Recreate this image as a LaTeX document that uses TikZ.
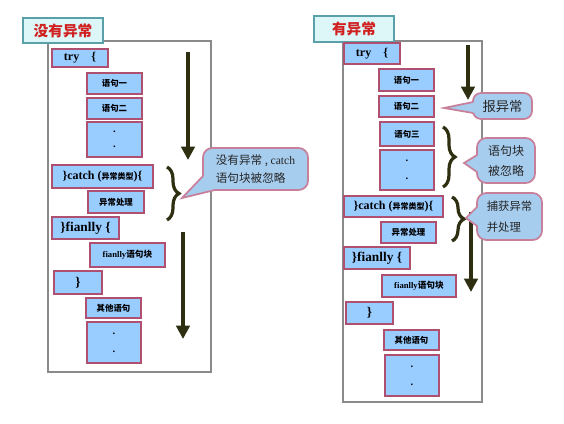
\documentclass[tikz,border=0pt]{standalone}
\usepackage{fontspec}
\setmainfont{Liberation Serif}
\newfontfamily\cjk{Noto Sans CJK SC}
\usetikzlibrary{arrows.meta,decorations.pathreplacing}
\definecolor{boxfill}{HTML}{99CCFF}
\definecolor{boxline}{HTML}{B05070}
\definecolor{framec}{HTML}{8A8A8A}
\definecolor{titlefill}{HTML}{DDF6F8}
\definecolor{titleline}{HTML}{5AA0A8}
\definecolor{titletext}{HTML}{D02020}
\definecolor{olive}{HTML}{2E2E10}
\definecolor{callfill}{HTML}{A6CCEE}
\definecolor{callline}{HTML}{C8809A}
\newcommand\fs[1]{\fontsize{#1}{#1}\selectfont}
\newcommand\bx[7]{\node[#1,minimum width={(#5-#3)*0.75pt},minimum height={(#6-#4)*0.75pt}] (#2) at ({(#3+#5)/2},{(#4+#6)/2}) {#7};}
\begin{document}
\begin{tikzpicture}[x=0.75pt,y=-0.75pt,
  blk/.style={draw=boxline,fill=boxfill,line width=1pt,inner sep=0pt,font=\bfseries},
  panel/.style={draw=framec,line width=1pt,inner sep=0pt},
  title/.style={draw=titleline,fill=titlefill,line width=0.9pt,inner sep=0pt,text=titletext,font=\cjk\bfseries\fs{11}},
  call/.style={draw=callline,fill=callfill,line width=1.3pt,rounded corners=7pt,inner sep=0pt,align=left,text=black!85},
  cline/.style={draw=callline,line width=1.3pt,line join=miter},
  flow/.style={draw=olive,line width=3pt,-{Triangle[width=10pt,length=10pt]}},
  brc/.style={draw=olive,line width=2.4pt,decorate,decoration={brace,amplitude=9pt}},
  dots/.style={align=center,font=\bfseries\fs{8}}]
\useasboundingbox (0,0) rectangle (564,424);
% ---------------- left panel ----------------
\bx{panel}{lframe}{48}{41}{211}{372}{}
\bx{title}{ltitle}{23}{18}{103}{43}{没有异常}
\bx{blk}{ltry}{52}{49}{108}{67}{\fs{9}try\hspace{1em}\{}
\bx{blk}{ls1}{87}{73}{142}{94}{\cjk\fs{6.3}语句一}
\bx{blk}{ls2}{87}{98}{142}{119}{\cjk\fs{6.3}语句二}
\bx{blk,dots}{ld1}{87}{122}{142}{157}{\raisebox{-7pt}{\shortstack{.\\[7pt].}}}
\bx{blk}{lcatch}{52}{165}{153}{188}{\fs{9}\}catch ({\cjk\fs{6}异常类型})\{}
\bx{blk}{lh}{88}{191}{144}{213}{\cjk\fs{6.3}异常处理}
\bx{blk}{lfin}{52}{217}{119}{239}{\fs{10}\}fianlly \{}
\bx{blk}{lfinb}{90}{243}{165}{267}{\fs{6.5}fianlly{\cjk 语句块}}
\bx{blk}{lend}{54}{271}{102}{294}{\fs{10}\}}
\bx{blk}{lo}{86}{298}{141}{318}{\cjk\fs{6.3}其他语句}
\bx{blk,dots}{ld2}{87}{322}{141}{363}{\raisebox{-8pt}{\shortstack{.\\[9pt].}}}
\coordinate (la1s) at (188,52);
\coordinate (la1e) at (188,160);
\draw[flow] (la1s) -- (la1e);
\coordinate (la2s) at (183,232);
\coordinate (la2e) at (183,339);
\draw[flow] (la2s) -- (la2e);
\coordinate (lb1) at (167,167);
\coordinate (lb2) at (167,220);
\draw[brc] (lb1) -- (lb2);
\bx{call}{lcall}{203}{148}{308}{190}{\cjk\fs{8.7}没有异常 , {\rmfamily catch}\\[2pt]\cjk\fs{8.7}语句块被忽略}
\coordinate (lct) at (182,198);
\coordinate (lca) at (203,176);
\coordinate (lcb) at (215,190);
\coordinate (lcc) at (214,180);
\fill[callfill] (lct) -- (lca) -- (lcc) -- (lcb) -- cycle;
\draw[cline] (lca) -- (lct) -- (lcb);
% ---------------- right panel ----------------
\bx{panel}{rframe}{343}{41}{482}{402}{}
\bx{title}{rtitle}{314}{16}{394}{42}{有异常}
\bx{blk}{rtry}{344}{43}{400}{64}{\fs{9}try\hspace{1em}\{}
\bx{blk}{rs1}{379}{69}{434}{91}{\cjk\fs{6.3}语句一}
\bx{blk}{rs2}{379}{96}{434}{117}{\cjk\fs{6.3}语句二}
\bx{blk}{rs3}{380}{122}{434}{146}{\cjk\fs{6.3}语句三}
\bx{blk,dots}{rd1}{380}{150}{434}{190}{\raisebox{-8pt}{\shortstack{.\\[9pt].}}}
\bx{blk}{rcatch}{344}{196}{443}{217}{\fs{9}\}catch ({\cjk\fs{6}异常类型})\{}
\bx{blk}{rh}{381}{222}{436}{243}{\cjk\fs{6.3}异常处理}
\bx{blk}{rfin}{344}{247}{410}{269}{\fs{10}\}fianlly \{}
\bx{blk}{rfinb}{382}{275}{456}{297}{\fs{6.5}fianlly{\cjk 语句块}}
\bx{blk}{rend}{346}{302}{393}{324}{\fs{10}\}}
\bx{blk}{ro}{384}{330}{439}{350}{\cjk\fs{6.3}其他语句}
\bx{blk,dots}{rd2}{385}{355}{439}{396}{\raisebox{-8pt}{\shortstack{.\\[9pt].}}}
\coordinate (ra1s) at (468,45);
\coordinate (ra1e) at (468,100);
\draw[flow] (ra1s) -- (ra1e);
\coordinate (ra2s) at (471,212);
\coordinate (ra2e) at (471,292);
\draw[flow] (ra2s) -- (ra2e);
\coordinate (rb1) at (443,127);
\coordinate (rb2) at (443,187);
\draw[brc] (rb1) -- (rb2);
\coordinate (rb3) at (452,197);
\coordinate (rb4) at (452,241);
\draw[brc] (rb3) -- (rb4);
% callout: 报异常
\bx{call,rounded corners=6pt}{rc1}{473}{93}{532}{119}{\cjk\fs{10}报异常}
\coordinate (rc1t) at (444,108);
\coordinate (rc1a) at (473,102);
\coordinate (rc1b) at (473,113);
\coordinate (rc1c) at (480,108);
\fill[callfill] (rc1t) -- (rc1a) -- (rc1c) -- (rc1b) -- cycle;
\draw[cline] (rc1a) -- (rc1t) -- (rc1b);
% callout: 语句块被忽略
\bx{call}{rc2}{477}{138}{535}{183}{\cjk\fs{9}语句块\\[3pt]\cjk\fs{9}被忽略}
\coordinate (rc2t) at (464,163);
\coordinate (rc2a) at (477,155);
\coordinate (rc2b) at (477,172);
\coordinate (rc2c) at (484,164);
\fill[callfill] (rc2t) -- (rc2a) -- (rc2c) -- (rc2b) -- cycle;
\draw[cline] (rc2a) -- (rc2t) -- (rc2b);
% callout: 捕获异常并处理
\bx{call}{rc3}{477}{193}{542}{240}{\cjk\fs{8.5}捕获异常\\[4pt]\cjk\fs{8.5}并处理}
\coordinate (rc3t) at (466,218);
\coordinate (rc3a) at (477,207);
\coordinate (rc3b) at (477,226);
\coordinate (rc3c) at (484,217);
\fill[callfill] (rc3t) -- (rc3a) -- (rc3c) -- (rc3b) -- cycle;
\draw[cline] (rc3a) -- (rc3t) -- (rc3b);
\end{tikzpicture}
\end{document}
